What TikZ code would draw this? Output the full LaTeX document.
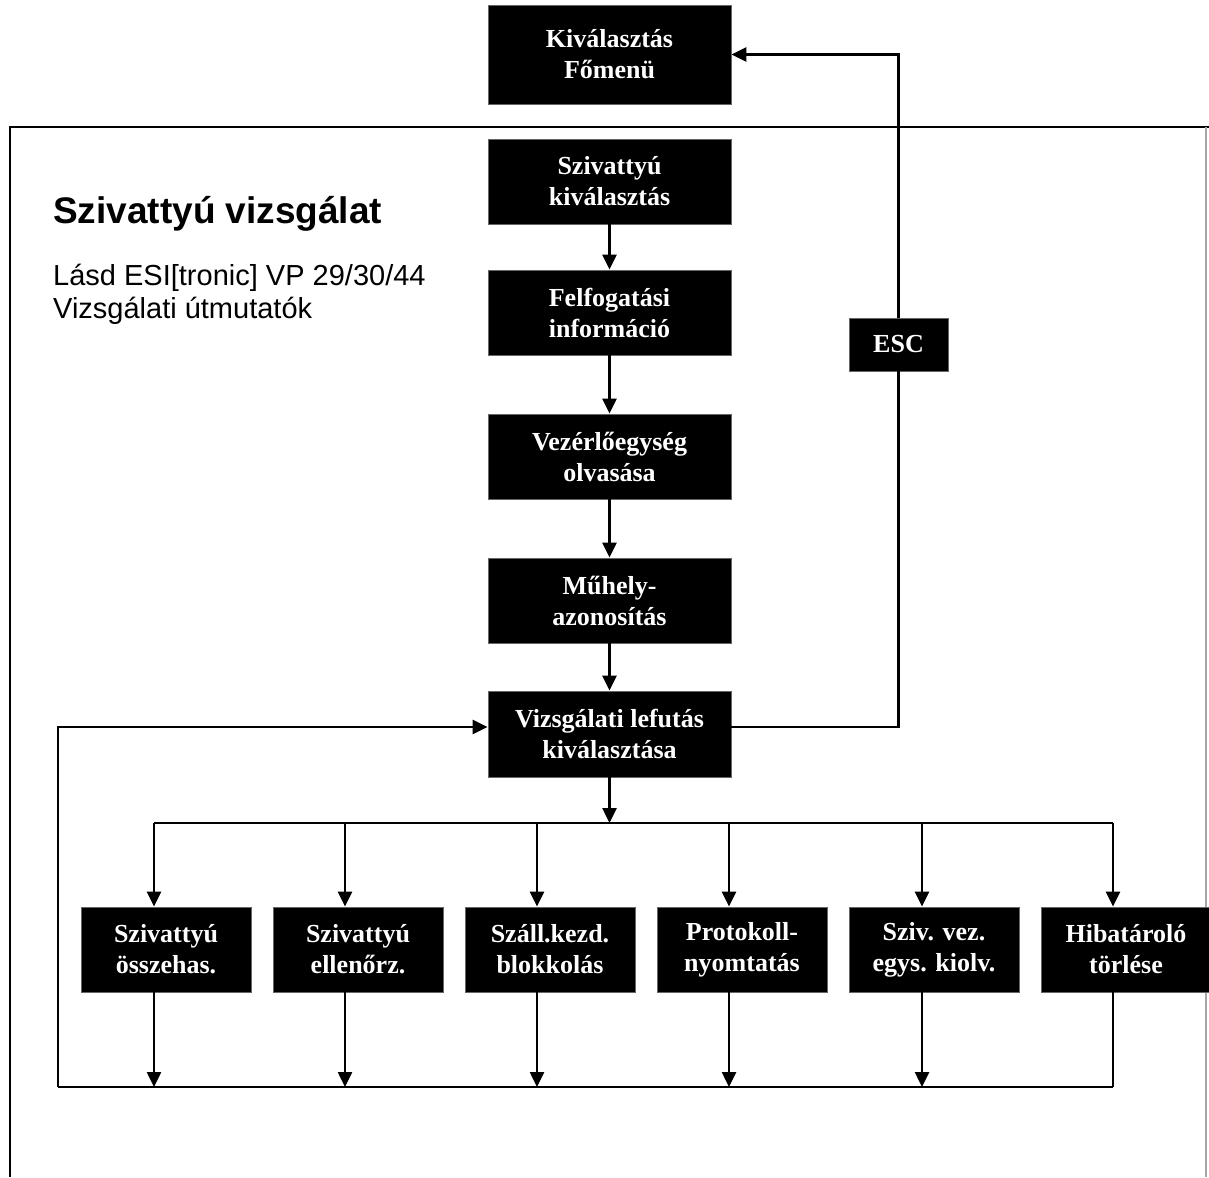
\documentclass[tikz,border=0pt]{standalone}
\usepackage{fontspec}
\setmainfont{Liberation Serif}
\newfontfamily\arialfont{Liberation Sans}
\usetikzlibrary{arrows.meta}
\begin{document}
\begin{tikzpicture}[x=1pt,y=-1pt,
  blk/.style={fill=black,draw=black!60,line width=0.8pt,text=white,inner sep=0pt,align=center,
    minimum width=243pt,minimum height=85pt,font=\fontsize{26}{31}\selectfont\bfseries},
  sblk/.style={blk,minimum width=170pt},
  ln/.style={line width=2.5pt},
  arr/.style={ln,-{Triangle[width=14pt,length=15pt]}}]
\useasboundingbox (0,0) rectangle (1209,1177);
% frame
\draw[ln] (10,1177) -- (10,127) -- (1209,127);
\draw[black!35,line width=1.5pt] (1206,127) -- (1206,1177);
% texts
\node[anchor=base west,inner sep=0pt,font=\arialfont\bfseries\fontsize{37}{44}\selectfont] (title) at (53,223) {Szivattyú vizsgálat};
\node[anchor=base west,inner sep=0pt,font=\arialfont\fontsize{29}{33}\selectfont] (sub1) at (53,285) {Lásd ESI[tronic] VP 29/30/44};
\node[anchor=base west,inner sep=0pt,font=\arialfont\fontsize{29}{33}\selectfont] (sub2) at (53,318) {Vizsgálati útmutatók};
% main column
\node[blk,minimum height=99pt] (F) at (609.5,54.5) {Kiválasztás\\Főmenü};
\node[blk] (S1) at (609.5,181.5) {Szivattyú\\kiválasztás};
\node[blk] (S2) at (609.5,312.5) {Felfogatási\\információ};
\node[blk] (S3) at (609.5,456.5) {Vezérlőegység\\olvasása};
\node[blk] (S4) at (609.5,600.5) {Műhely-\\azonosítás};
\node[blk,minimum height=86pt] (S5) at (609.5,734) {Vizsgálati lefutás\\kiválasztása};
\node[blk,minimum width=99pt,minimum height=53pt] (ESC) at (898.5,344.5) {ESC};
% bottom boxes
\node[sblk] (B1) at (166,949.5) {Szivattyú\\összehas.};
\node[sblk] (B2) at (358,949.5) {Szivattyú\\ellenőrz.};
\node[sblk] (B3) at (550,949.5) {Száll.kezd.\\blokkolás};
\node[sblk] (B4) at (742,949.5) {Protokoll-\\nyomtatás};
\node[sblk] (B5) at (934,949.5) {Sziv. vez.\\egys. kiolv.};
\node[sblk] (B6) at (1126,949.5) {Hibatároló\\törlése};
% coordinates
\coordinate (BR) at (609.5,823);
\coordinate (t1) at (154,823);
\coordinate (t2) at (345,823);
\coordinate (t3) at (537,823);
\coordinate (t4) at (729,823);
\coordinate (t5) at (922,823);
\coordinate (t6) at (1113,823);
\coordinate (u1) at (154,1087);
\coordinate (u2) at (345,1087);
\coordinate (u3) at (537,1087);
\coordinate (u4) at (729,1087);
\coordinate (u5) at (922,1087);
\coordinate (u6) at (1113,1087);
\coordinate (bl) at (58,1087);
% main arrows
\draw[arr] (S1) -- (S2);
\draw[arr] (S2) -- (S3);
\draw[arr] (S3) -- (S4);
\draw[arr] (S4) -- (S5);
\draw[arr] (S5) -- (BR);
% ESC loop
\draw[ln] ([yshift=7pt]S5.east) -| (ESC.south);
\draw[arr] (ESC.north) |- (F.east);
% branch
\draw[ln] (t1) -- (t6);
\foreach \i in {1,...,6}{\draw[arr] (t\i) -- (t\i |- B\i.north);}
\foreach \i in {1,...,5}{\draw[arr] (t\i |- B\i.south) -- (u\i);}
\draw[ln] (t6 |- B6.south) -- (u6);
\draw[ln] (u6) -- (bl);
\draw[arr] (bl) |- ([yshift=7pt]S5.west);
\end{tikzpicture}
\end{document}
